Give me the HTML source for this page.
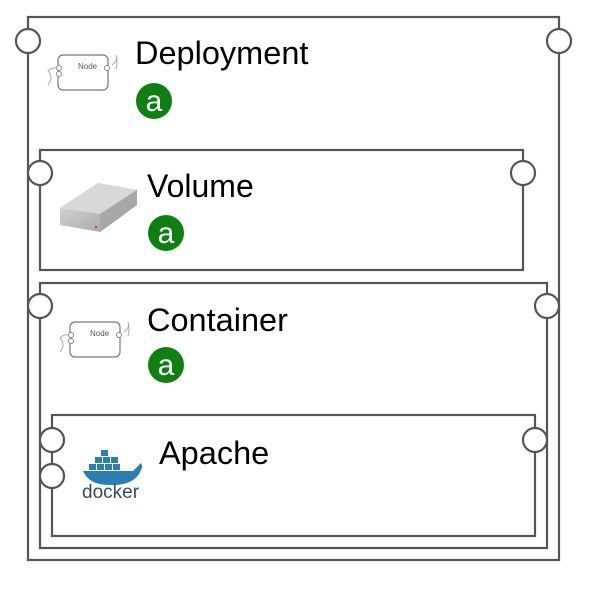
<!DOCTYPE html>
<html><head><style>body{margin:0;background:#fff;width:595px;height:589px;overflow:hidden}</style></head><body>
<svg width="595" height="589" xmlns="http://www.w3.org/2000/svg" font-family="Liberation Sans, sans-serif">
<defs>
<linearGradient id="dk" x1="0" y1="0" x2="1" y2="1"><stop offset="0" stop-color="#e4e4e4"/><stop offset="1" stop-color="#9a9a9a"/></linearGradient>
<g id="node">
<rect x="12" y="10" width="50" height="35" rx="5" fill="#fff" stroke="#777" stroke-width="1.2"/>
<text x="32" y="24" font-size="8" fill="#555">Node</text>
<circle cx="13" cy="23" r="2.5" fill="#fff" stroke="#888"/><circle cx="13" cy="29" r="2.5" fill="#fff" stroke="#888"/>
<circle cx="61" cy="23" r="2.5" fill="#fff" stroke="#888"/>
<path d="M2 40 q6 -8 0 -14 q4 -4 8 -3 M66 20 q6 -4 4 -10 q2 6 0 14" fill="none" stroke="#aaa"/>
</g>
<g id="a"><circle r="18" fill="#0f7f12"/><text x="0" y="10" font-size="30" fill="#fff" text-anchor="middle">a</text></g>
</defs>
<g fill="#fff" stroke="#555" stroke-width="2.2">
<rect x="28" y="17" width="531" height="543"/>
<rect x="40" y="150" width="483" height="120"/>
<rect x="40" y="283" width="507" height="265"/>
<rect x="52" y="415" width="483" height="121"/>
<circle cx="28" cy="41" r="12"/><circle cx="559" cy="41" r="12"/>
<circle cx="40" cy="173" r="12"/><circle cx="523" cy="173" r="12"/>
<circle cx="40" cy="306" r="12"/><circle cx="547" cy="306" r="12"/>
<circle cx="52" cy="440" r="12"/><circle cx="52" cy="476" r="12"/><circle cx="535" cy="440" r="12"/>
</g>
<use href="#node" x="46" y="45"/>
<use href="#node" x="58" y="312"/>
<text x="135" y="64" font-size="32.5">Deployment</text>
<use href="#a" x="154" y="101"/>
<text x="147" y="197" font-size="32">Volume</text>
<use href="#a" x="166" y="233"/>
<text x="147" y="331" font-size="32.5">Container</text>
<use href="#a" x="166" y="365"/>
<text x="159" y="464" font-size="32.5">Apache</text>
<path d="M60 208 L98 183 L137 190 L137 205 L100 232 L60 225 Z" fill="url(#dk)"/>
<path d="M60 208 L98 183 L137 190 L100 214 Z" fill="#d8d8d8"/>
<path d="M100 214 L137 190 L137 205 L100 232 Z" fill="#a8a8a8"/>
<circle cx="96" cy="227" r="1.2" fill="#d33"/>
<g fill="#2a7fb0">
<rect x="101" y="450" width="7" height="6"/><rect x="95" y="457" width="7" height="6"/><rect x="103" y="457" width="7" height="6"/><rect x="111" y="457" width="7" height="6"/>
<rect x="89" y="464" width="7" height="6"/><rect x="97" y="464" width="7" height="6"/><rect x="105" y="464" width="7" height="6"/><rect x="113" y="464" width="7" height="6"/>
<path d="M84 471 L133 471 q6 -6 8 -8 q2 4 0 7 q-6 16 -32 15 q-20 0 -26 -14 Z"/>
</g>
<text x="82" y="498" font-size="19" fill="#394d54">docker</text>
</svg>
</body></html>
